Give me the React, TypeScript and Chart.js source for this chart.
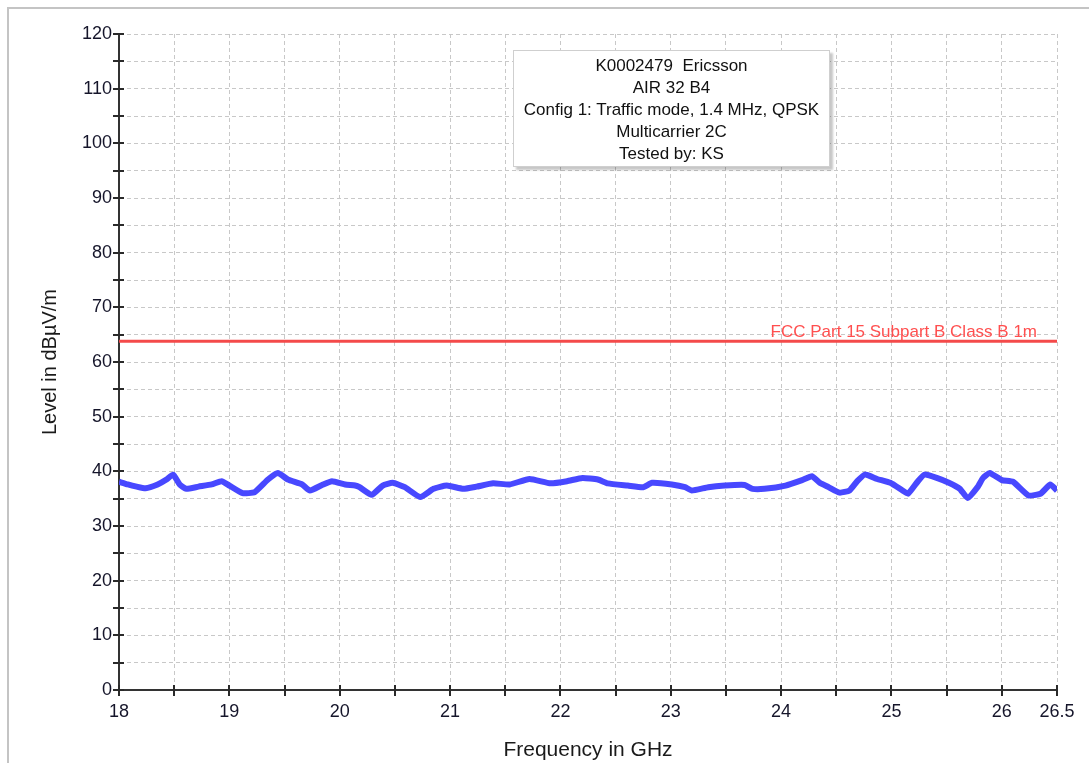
import React, { useEffect, useRef } from "react";
import { Chart, registerables } from "chart.js";

Chart.register(...registerables);

// Measured trace (centre of the noisy band), frequency in GHz
const freqGHz = [
  18.0, 18.08, 18.16, 18.24, 18.35, 18.43, 18.49, 18.55, 18.61, 18.72, 18.84, 18.93,
  19.0, 19.12, 19.23, 19.35, 19.44, 19.53, 19.66, 19.73, 19.84, 19.93,
  20.05, 20.14, 20.18, 20.29, 20.39, 20.48, 20.59, 20.73, 20.85, 20.97,
  21.12, 21.24, 21.39, 21.54, 21.72, 21.91,
  22.06, 22.2, 22.34, 22.43, 22.61, 22.75, 22.83,
  23.01, 23.13, 23.19, 23.34, 23.49, 23.67, 23.74, 23.85,
  24.04, 24.19, 24.28, 24.35, 24.43, 24.53, 24.62, 24.69, 24.76, 24.87, 24.99,
  25.1, 25.15, 25.24, 25.3, 25.41, 25.52, 25.62, 25.69, 25.78, 25.83, 25.89,
  26.0, 26.1, 26.24, 26.35, 26.44, 26.5,
];
const levelDbuV = [
  38.1, 37.6, 37.2, 36.9, 37.6, 38.5, 39.4, 37.6, 36.8, 37.2, 37.6, 38.2,
  37.4, 36.0, 36.2, 38.5, 39.7, 38.5, 37.6, 36.5, 37.5, 38.2,
  37.6, 37.4, 37.1, 35.7, 37.4, 37.9, 37.1, 35.3, 36.8, 37.4,
  36.8, 37.2, 37.8, 37.6, 38.6, 37.8,
  38.2, 38.8, 38.5, 37.8, 37.4, 37.1, 37.9,
  37.6, 37.1, 36.5, 37.1, 37.4, 37.5, 36.8, 36.8,
  37.4, 38.4, 39.1, 37.9, 37.1, 36.1, 36.5, 38.2, 39.4, 38.6, 37.9,
  36.5, 35.9, 38.2, 39.4, 38.8, 37.9, 36.8, 35.1, 37.1, 38.8, 39.7,
  38.4, 38.1, 35.6, 35.9, 37.6, 36.5,
];

// Limit line
const limitFreq = [18, 26.5];
const limitLevel = [63.8, 63.8];
const limitLabel = "FCC Part 15 Subpart B Class B 1m";

// Info box text
const infoLines = [
  "K0002479  Ericsson",
  "AIR 32 B4",
  "Config 1: Traffic mode, 1.4 MHz, QPSK",
  "Multicarrier 2C",
  "Tested by: KS",
];

// Axes
const xMin = 18;
const xMax = 26.5;
const xStep = 0.5;
const yMin = 0;
const yMax = 120;
const yStep = 5;
const xTitle = "Frequency in GHz";
const yTitle = "Level in dBµV/m";

const FONT = '"Liberation Sans", Arial, sans-serif';

export default function App() {
  const ref = useRef<HTMLCanvasElement | null>(null);

  useEffect(() => {
    if (!ref.current) return;

    const crossTicks = {
      id: "crossTicks",
      afterDraw(chart: any) {
        const { ctx, scales, chartArea } = chart;
        const xs = scales.x;
        const ys = scales.y;
        ctx.save();
        ctx.strokeStyle = "#2a2a2a";
        ctx.lineWidth = 2;
        xs.ticks.forEach((t: any) => {
          const px = Math.round(xs.getPixelForValue(t.value));
          ctx.beginPath();
          ctx.moveTo(px, chartArea.bottom - 5);
          ctx.lineTo(px, chartArea.bottom + 6);
          ctx.stroke();
        });
        ys.ticks.forEach((t: any) => {
          const py = Math.round(ys.getPixelForValue(t.value));
          ctx.beginPath();
          ctx.moveTo(chartArea.left - 6, py);
          ctx.lineTo(chartArea.left + 5, py);
          ctx.stroke();
        });
        ctx.restore();
      },
    };

    const limitText = {
      id: "limitText",
      afterDatasetsDraw(chart: any) {
        const { ctx, scales } = chart;
        const px = scales.x.getPixelForValue(limitFreq[1]) - 20;
        const py = scales.y.getPixelForValue(limitLevel[1]) - 9;
        ctx.save();
        ctx.font = `17px ${FONT}`;
        ctx.fillStyle = "#ff4f4f";
        ctx.textAlign = "right";
        ctx.textBaseline = "middle";
        ctx.fillText(limitLabel, px, py);
        ctx.restore();
      },
    };

    const chart = new Chart(ref.current, {
      type: "line",
      data: {
        datasets: [
          {
            label: "Level",
            data: freqGHz.map((f, i) => ({ x: f, y: levelDbuV[i] })),
            borderColor: "#4848ff",
            borderWidth: 6,
            pointRadius: 0,
            tension: 0.15,
          },
          {
            label: limitLabel,
            data: limitFreq.map((f, i) => ({ x: f, y: limitLevel[i] })),
            borderColor: "#f44a4a",
            borderWidth: 3,
            pointRadius: 0,
          },
        ],
      },
      options: {
        responsive: false,
        animation: false,
        layout: { padding: { top: 34, right: 32, left: 0, bottom: 0 } },
        plugins: {
          legend: { display: false },
          tooltip: { enabled: false },
        },
        scales: {
          x: {
            type: "linear",
            min: xMin,
            max: xMax,
            afterFit: (s: any) => {
              s.height = 73;
            },
            ticks: {
              stepSize: xStep,
              autoSkip: false,
              maxRotation: 0,
              padding: 11,
              color: "#15152a",
              font: { family: FONT, size: 18 },
              callback: (v: any) => {
                const n = Number(v);
                if (n === xMax) return String(n);
                return Number.isInteger(n) ? String(n) : "";
              },
            },
            grid: { color: "#c8c8c8", lineWidth: 1, drawTicks: false },
            border: { display: true, color: "#333333", width: 2, dash: [4, 3] },
            title: {
              display: true,
              text: xTitle,
              color: "#1a1a1a",
              font: { family: FONT, size: 21 },
              padding: 0,
            },
          },
          y: {
            type: "linear",
            min: yMin,
            max: yMax,
            afterFit: (s: any) => {
              s.width = 119;
            },
            ticks: {
              stepSize: yStep,
              autoSkip: false,
              padding: 7,
              color: "#15152a",
              font: { family: FONT, size: 18 },
              callback: (v: any) => {
                const n = Number(v);
                return n % 10 === 0 ? String(n) : "";
              },
            },
            grid: { color: "#c8c8c8", lineWidth: 1, drawTicks: false },
            border: { display: true, color: "#333333", width: 2, dash: [4, 3] },
            title: {
              display: true,
              text: yTitle,
              color: "#1a1a1a",
              font: { family: FONT, size: 20 },
              padding: { top: 38, bottom: 0 },
            },
          },
        },
      },
      plugins: [crossTicks, limitText],
    } as any);

    return () => chart.destroy();
  }, []);

  return (
    <div style={{ position: "fixed", left: 0, top: 0, width: 1089, height: 763, background: "#fff", overflow: "hidden" }}>
      <div
        style={{
          position: "absolute",
          left: 7,
          top: 7,
          width: 1200,
          height: 900,
          borderLeft: "2px solid #c4c4c4",
          borderTop: "2px solid #c4c4c4",
        }}
      />
      <canvas ref={ref} width={1089} height={763} style={{ position: "absolute", left: 0, top: 0 }} />
      <div
        style={{
          position: "absolute",
          left: 513,
          top: 50,
          width: 317,
          height: 117,
          background: "#fff",
          border: "1px solid #cfcfcf",
          boxShadow: "3px 3px 2px rgba(0,0,0,0.22)",
          fontFamily: FONT,
          fontSize: 17,
          lineHeight: "22px",
          color: "#111",
          textAlign: "center",
          paddingTop: 4,
          boxSizing: "border-box",
          whiteSpace: "pre",
        }}
      >
        {infoLines.map((l, i) => (
          <div key={i}>{l}</div>
        ))}
      </div>
    </div>
  );
}
